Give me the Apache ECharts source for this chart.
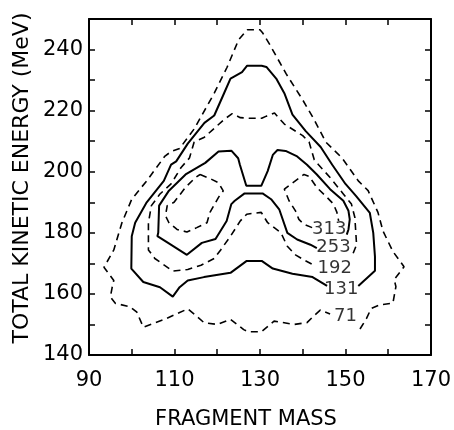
<!DOCTYPE html>
<html>
<head>
<meta charset="utf-8">
<script src="https://cdn.jsdelivr.net/npm/echarts@6/dist/echarts.min.js"></script>
<style>
	html, body { margin: 0; padding: 0; background: #fff; }
	#chart { width: 454px; height: 430px; }
</style>
</head>
<body>
<div id="chart"></div>
<script>
	// contour lines, [fragment mass, TKE in MeV]
	var c71 = [[153.4,148.5],[154.9,151.9],[156,155.2],[158,156.4],[161.1,157],[161.8,162.4],[161.4,164.7],[163.7,168.9],
		[161.1,173.9],[158.8,180.5],[157.6,186.7],[155.3,193.8],[153,197],[149.2,204.5],[145.4,209.7],[142.7,217],
		[140,223.5],[136.1,232.1],[132.3,241.6],[130.6,245.5],[130,246.5],[127,246.5],[125,243.2],[122.3,234.2],
		[119.3,225.7],[114.6,214],[111.2,207.6],[109.2,206.6],[107.7,205],[103.5,197],[100,191],[97.7,183.3],
		[95.8,174.4],[93.5,168.7],[95.8,164.4],[95.4,162],[95,159],[96.2,156.9],[99.6,155.8],[101.2,154],
		[102.7,149.1],[107.7,151.7],[113.1,155.1],[114.6,153.4],[116.9,150.6],[120,150],[123.1,151.7],[126.2,148.3],
		[127.2,147.6],[130.3,147.6],[133.3,151.1],[138,150],[141,150.6],[142.6,152.8],[144.1,154.7],[146.4,153.4]];
	var c131 = [[153,162.6],[156.9,167.6],[156.9,172.2],[156.5,180],[155.7,186.5],[152.5,192],[150,196],[146.9,202.3],
		[144.2,208.1],[140.7,213.3],[137.6,218.7],[135.7,225.7],[133.8,230.5],[131.5,234.3],[130.4,234.7],[127,234.7],
		[125.8,232.6],[123.1,230.5],[121.6,225.7],[119.3,218.4],[117,216],[113.1,209.2],[110.4,203.4],[109.2,202.3],
		[107.5,197],[103.5,190],[100.8,183.3],[100,178.9],[99.9,168.3],[102.7,163.9],[106.6,162.2],[109.6,159.1],
		[111.2,162.2],[113.1,164.4],[116.9,165.5],[123.1,166.9],[126.9,170.8],[130.4,170.8],[133,168.3],[137.6,166.6],
		[142.3,165.5],[145.7,162.6]];
	var c192 = [[151.8,173.3],[152.6,176.1],[152.4,180.5],[152.2,185],[151.4,189.4],[149.5,192.7],[146.4,198.1],[143.7,202.3],
		[142.7,203.9],[141.5,209.7],[140,211.8],[135.7,215.6],[133.4,219.2],[131.5,218.2],[130.4,217.5],[127.7,217.5],
		[125.4,217.7],[123.5,219],[121.6,217.1],[117,211.3],[114.6,209.7],[113.5,204.5],[111.5,201.3],[109.2,196],
		[106.6,192.7],[104.6,188.9],[103.9,183.3],[103.9,174.4],[105.4,171.6],[109.6,167.5],[113.1,168],[116.2,169.4],
		[119.3,171.6],[120.8,174.4],[123.1,178.9],[125.4,183.9],[126.9,186.1],[127.2,186.7],[130.3,186.7],[131.8,183.3],
		[134.9,180],[136.4,175.6],[138.3,172.8],[140.3,171.1],[142.6,169.4]];
	var c253 = [[150.3,179.4],[150.7,181.1],[151,184.4],[150.7,187.2],[149.5,190.5],[146.4,194.3],[143.3,199.1],[141,202.3],
		[138.7,205],[136,206.8],[134.1,207.1],[133,205.5],[131.8,200.2],[130.3,195.4],[126.8,195.4],[125.3,202.3],
		[124.9,204.4],[123.3,206.9],[120.3,206.6],[117.2,202.9],[112.6,199.1],[108.7,193.8],[106.4,188.9],[106.2,180],
		[106,178.9],[108.5,176.7],[112.9,172.8],[116.4,176.7],[119.6,178],[122.2,183.9],[123.3,189.4],[124.1,190.5],
		[126.4,192.9],[130.6,192.9],[132.6,191],[134.5,187.7],[136.4,180],[138.7,177.8],[141.8,176.1],[143.3,175]];
	var c313L = [[116,199.1],[118.7,197.5],[120.3,196.4],[121.4,193.7],[120.3,191.6],[118.3,186.7],[117.6,183.3],[115.2,181.7],
		[112.9,180.3],[110.6,181.1],[108.7,183.3],[107.9,185.6],[108.3,188.9],[109.9,190],[112.6,194.9],[114.9,198.1],
		[116,199.1]];
	var c313R = [[142.2,181.7],[140.3,182.8],[139.1,184.4],[138.3,187.2],[136.8,190.5],[135.7,194.3],[137.2,195.9],[140.3,199.1],
		[141.5,198.5],[143.3,194.8],[145.7,191.6],[147.2,189.4],[148,186.7],[148.4,183.9]];
	var strayDots = [[92.7,152.9],[164.2,153.7]];

	// contour level labels and where they sit
	var levelNames = ['313', '253', '192', '131', '71'];
	var levelX = [146.2, 147.2, 147.5, 149, 150];
	var levelY = [181.2, 175.2, 168.3, 161.4, 152.6];

	var font = '"DejaVu Sans", sans-serif';

	function contour(data, dashed){
		return {
			type: 'line',
			data: data,
			symbol: 'none',
			showSymbol: false,
			silent: true,
			lineStyle: { color: '#000', width: dashed ? 1.6 : 2, type: dashed ? [7, 5] : 'solid' }
		};
	}

	function baseAxis(pos, showLabel, fmt){
		return {
			type: 'value',
			position: pos,
			axisLine: { onZero: false, lineStyle: { color: '#000', width: 2 } },
			axisTick: { inside: true, length: 6, lineStyle: { color: '#000', width: 1.5 } },
			axisLabel: { show: showLabel, formatter: fmt, color: '#000', fontSize: 21, fontFamily: font, margin: 15 },
			splitLine: { show: false }
		};
	}

	var xFmt = function(v){ return (v - 90) % 20 === 0 ? String(v) : ''; };
	var yFmt = function(v){ return ((v - 140) % 20 === 0 && v <= 240) ? String(v) : ''; };

	var xBottom = baseAxis('bottom', true, xFmt), xTop = baseAxis('top', false);
	var yLeft = baseAxis('left', true, yFmt), yRight = baseAxis('right', false);
	[xBottom, xTop].forEach(function(a){ a.min = 90; a.max = 170; a.interval = 10; });
	[yLeft, yRight].forEach(function(a){ a.min = 140; a.max = 250; a.interval = 10; });
	yLeft.axisLabel.margin = 6;

	var chart = echarts.init(document.getElementById('chart'));
	chart.setOption({
		animation: false,
		backgroundColor: '#fff',
		grid: { left: 89, right: 19, top: 19, bottom: 75 },
		xAxis: [xBottom, xTop],
		yAxis: [yLeft, yRight],
		graphic: [
			{ type: 'text', x: 246, y: 420, silent: true,
				style: { text: 'FRAGMENT MASS', font: '21px ' + font, fill: '#000', align: 'center', verticalAlign: 'middle', textAlign: 'center', textVerticalAlign: 'middle' } },
			{ type: 'text', x: 22, y: 178, rotation: Math.PI / 2, silent: true,
				style: { text: 'TOTAL KINETIC ENERGY (MeV)', font: '22px ' + font, fill: '#000', align: 'center', verticalAlign: 'middle', textAlign: 'center', textVerticalAlign: 'middle' } }
		],
		series: [
			contour(c71, true),
			contour(c131, false),
			contour(c192, true),
			contour(c253, false),
			contour(c313L, true),
			contour(c313R, true),
			{
				type: 'scatter',
				data: strayDots,
				symbol: 'emptyCircle',
				symbolSize: 5,
				silent: true,
				itemStyle: { color: '#fff', borderColor: '#000', borderWidth: 1 }
			},
			{
				type: 'scatter',
				symbolSize: 1,
				silent: true,
				itemStyle: { color: 'rgba(0,0,0,0)' },
				data: levelNames.map(function(n, i){ return { name: n, value: [levelX[i], levelY[i]] }; }),
				label: { show: true, position: 'inside', formatter: '{b}', color: '#000', textBorderWidth: 0, fontSize: 18, fontFamily: font }
			}
		]
	});
</script>
</body>
</html>
